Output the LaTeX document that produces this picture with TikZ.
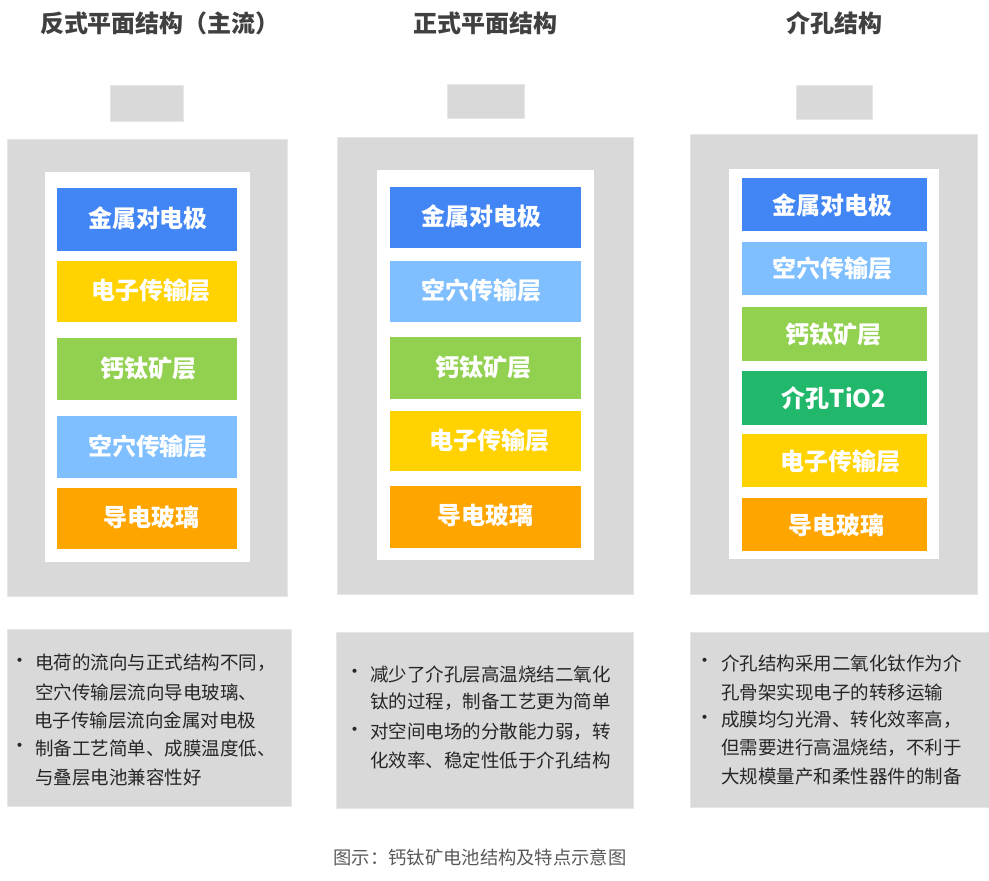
\documentclass[tikz,border=0pt]{standalone}
\usepackage{fontspec}
\setmainfont{Noto Sans CJK SC}
\definecolor{cblue}{HTML}{4285F4}
\definecolor{cyellow}{HTML}{FFD200}
\definecolor{cgreen}{HTML}{92D050}
\definecolor{clblue}{HTML}{7FBFFF}
\definecolor{corange}{HTML}{FFA500}
\definecolor{ctio}{HTML}{22B86B}
\definecolor{cgray}{HTML}{D9D9D9}
\definecolor{cedge}{HTML}{E6E6E6}
\definecolor{ctitle}{HTML}{404040}
\definecolor{ctext}{HTML}{262626}
\definecolor{ccap}{HTML}{595959}
\tikzset{
  graybox/.style={fill=cgray, draw=cedge, line width=0.8pt},
  whitebox/.style={fill=white, draw=none},
  layer/.style={fill=#1, draw=none},
  layertext/.style={text=white, font=\fontsize{24}{27}\selectfont\bfseries, inner sep=0pt},
  title/.style={text=ctitle, font=\fontsize{24}{27}\selectfont\bfseries, inner sep=0pt},
  bodytext/.style={text=ctext, font=\fontsize{18.5}{22}\selectfont, anchor=west, inner sep=0pt},
  bullettext/.style={text=ctext, font=\fontsize{19}{22}\selectfont, inner sep=0pt},
  captext/.style={text=ccap, font=\fontsize{18.3}{22}\selectfont, inner sep=0pt}
}
\begin{document}
\begin{tikzpicture}[x=1pt,y=-1pt]
\useasboundingbox (0,0) rectangle (989,881);
% ---------- titles
\node[title] (t1) at (160,23) {反式平面结构（主流）};
\node[title] (t2) at (485,23) {正式平面结构};
\node[title] (t3) at (834,23) {介孔结构};
% ---------- column 1
\path[graybox] (110,85) rectangle (183,121);
\path[graybox] (7,139) rectangle (287,596);
\path[whitebox] (45,172) rectangle (250,562);
\path[layer=cblue] (57,188) rectangle (237,251);
\path[layer=cyellow] (57,261) rectangle (237,322);
\path[layer=cgreen] (57,338) rectangle (237,400);
\path[layer=clblue] (57,416) rectangle (237,478);
\path[layer=corange] (57,488) rectangle (237,549);
\node[layertext] (a1) at (148,218) {金属对电极};
\node[layertext] (a2) at (151,290) {电子传输层};
\node[layertext] (a3) at (148,368) {钙钛矿层};
\node[layertext] (a4) at (148,446) {空穴传输层};
\node[layertext] (a5) at (151,517) {导电玻璃};
\path[graybox] (7,629) rectangle (291,806);
\node[bullettext] (ab1) at (20,663) {•};
\node[bullettext] (ab2) at (20,748) {•};
\node[bodytext] (al1) at (35,663) {电荷的流向与正式结构不同，};
\node[bodytext] (al2) at (35,692) {空穴传输层流向导电玻璃、};
\node[bodytext] (al3) at (34,720) {电子传输层流向金属对电极};
\node[bodytext] (al4) at (35,748) {制备工艺简单、成膜温度低、};
\node[bodytext] (al5) at (35,777) {与叠层电池兼容性好};
% ---------- column 2
\path[graybox] (447,84) rectangle (524,118);
\path[graybox] (337,137) rectangle (633,594);
\path[whitebox] (377,170) rectangle (594,560);
\path[layer=cblue] (390,187) rectangle (581,248);
\path[layer=clblue] (390,261) rectangle (581,322);
\path[layer=cgreen] (390,337) rectangle (581,399);
\path[layer=cyellow] (390,411) rectangle (581,471);
\path[layer=corange] (390,486) rectangle (581,548);
\node[layertext] (b1) at (481,216) {金属对电极};
\node[layertext] (b2) at (481,290) {空穴传输层};
\node[layertext] (b3) at (483,367) {钙钛矿层};
\node[layertext] (b4) at (489,440) {电子传输层};
\node[layertext] (b5) at (485,515) {导电玻璃};
\path[graybox] (336,632) rectangle (633,808);
\node[bullettext] (bb1) at (355,674) {•};
\node[bullettext] (bb2) at (355,732) {•};
\node[bodytext] (bl1) at (370,674) {减少了介孔层高温烧结二氧化};
\node[bodytext] (bl2) at (370,702) {钛的过程，制备工艺更为简单};
\node[bodytext] (bl3) at (370,732) {对空间电场的分散能力弱，转};
\node[bodytext] (bl4) at (370,760) {化效率、稳定性低于介孔结构};
% ---------- column 3
\path[graybox] (796,85) rectangle (872,119);
\path[graybox] (690,134) rectangle (977,594);
\path[whitebox] (729,169) rectangle (939,559);
\path[layer=cblue] (742,178) rectangle (927,231);
\path[layer=clblue] (742,242) rectangle (927,295);
\path[layer=cgreen] (742,307) rectangle (927,361);
\path[layer=ctio] (742,371) rectangle (927,425);
\path[layer=cyellow] (742,434) rectangle (927,487);
\path[layer=corange] (742,498) rectangle (927,551);
\node[layertext] (c1) at (832,205) {金属对电极};
\node[layertext] (c2) at (832,268) {空穴传输层};
\node[layertext] (c3) at (833,334) {钙钛矿层};
\node[layertext] (c4) at (834,398) {介孔TiO2};
\node[layertext] (c5) at (840,461) {电子传输层};
\node[layertext] (c6) at (836,525) {导电玻璃};
\path[graybox] (690,632) rectangle (992,807);
\node[bullettext] (cb1) at (705,663) {•};
\node[bullettext] (cb2) at (705,720) {•};
\node[bodytext] (cl1) at (721,663) {介孔结构采用二氧化钛作为介};
\node[bodytext] (cl2) at (721,692) {孔骨架实现电子的转移运输};
\node[bodytext] (cl3) at (721,720) {成膜均匀光滑、转化效率高，};
\node[bodytext] (cl4) at (721,748) {但需要进行高温烧结，不利于};
\node[bodytext] (cl5) at (721,776) {大规模量产和柔性器件的制备};
% ---------- caption
\node[captext] (cap) at (480,857) {图示：钙钛矿电池结构及特点示意图};
\end{tikzpicture}
\end{document}
